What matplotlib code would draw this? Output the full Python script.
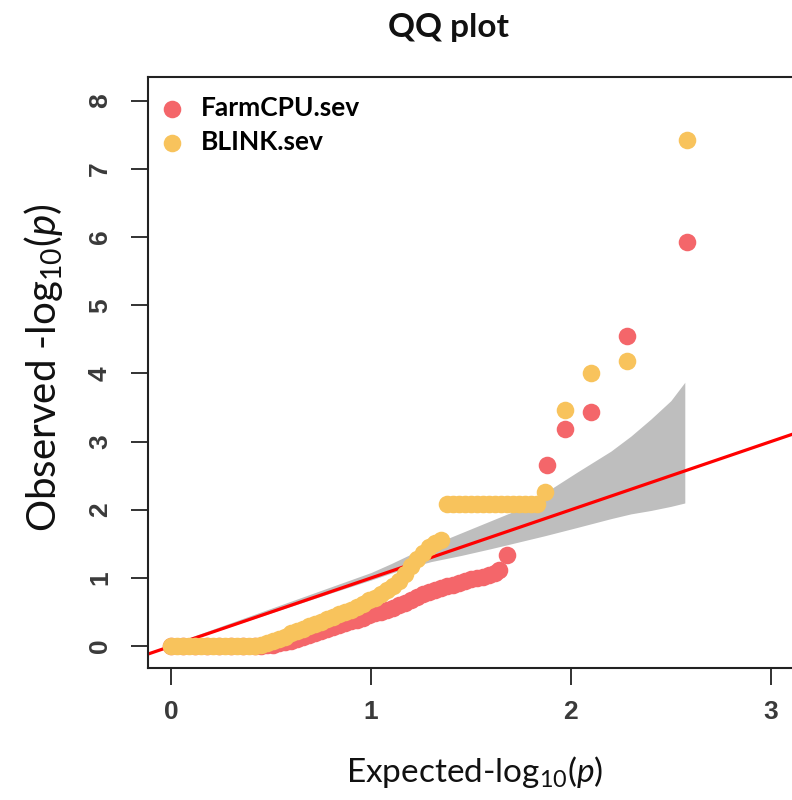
import numpy as np
import matplotlib
matplotlib.use("Agg")
import matplotlib.pyplot as plt

plt.rcParams['mathtext.fontset'] = 'custom'
plt.rcParams['mathtext.rm'] = 'Lato'
plt.rcParams['mathtext.it'] = 'Lato:italic'

# BLINK.sev : expected vs observed -log10(p)
blink_x = [0.00, 0.03, 0.06, 0.09, 0.12, 0.15, 0.18, 0.21, 0.24, 0.27, 0.30, 0.33, 0.36, 0.39, 0.42,
           0.45, 0.48, 0.51, 0.54, 0.57, 0.60, 0.63, 0.66, 0.69, 0.72, 0.75, 0.78, 0.81, 0.84, 0.87,
           0.90, 0.93, 0.96, 0.99, 1.02, 1.05, 1.08, 1.11, 1.14, 1.17, 1.20, 1.23, 1.26, 1.29, 1.32, 1.35,
           1.38, 1.41, 1.44, 1.47, 1.50, 1.53, 1.56, 1.59, 1.62, 1.65, 1.68, 1.71, 1.74, 1.77, 1.80, 1.83,
           1.87, 1.97, 2.10, 2.28, 2.58]
blink_y = [0.00, 0.00, 0.00, 0.00, 0.00, 0.00, 0.00, 0.00, 0.00, 0.00, 0.00, 0.00, 0.00, 0.00, 0.00,
           0.02, 0.04, 0.07, 0.10, 0.14, 0.19, 0.22, 0.25, 0.29, 0.32, 0.36, 0.40, 0.43, 0.47, 0.50,
           0.53, 0.58, 0.62, 0.67, 0.71, 0.76, 0.82, 0.88, 0.96, 1.06, 1.17, 1.28, 1.37, 1.45, 1.51, 1.55,
           2.08, 2.08, 2.08, 2.08, 2.08, 2.08, 2.08, 2.08, 2.08, 2.08, 2.08, 2.08, 2.08, 2.08, 2.08, 2.08,
           2.26, 3.47, 4.00, 4.18, 7.43]

# FarmCPU.sev
farm_x = [0.00, 0.06, 0.12, 0.18, 0.24, 0.30, 0.36, 0.42,
          0.45, 0.48, 0.51, 0.54, 0.57, 0.60, 0.63, 0.66, 0.69, 0.72, 0.75, 0.78, 0.81, 0.84, 0.87,
          0.90, 0.93, 0.96, 0.99, 1.02, 1.05, 1.08, 1.11, 1.14, 1.17, 1.20, 1.23, 1.26, 1.29, 1.32, 1.35,
          1.38, 1.41, 1.44, 1.47, 1.50, 1.53, 1.56, 1.59, 1.62, 1.64,
          1.68, 1.88, 1.97, 2.10, 2.28, 2.58]
farm_y = [0.00, 0.00, 0.00, 0.00, 0.00, 0.00, 0.00, 0.00,
          0.00, 0.01, 0.02, 0.04, 0.06, 0.08, 0.10, 0.13, 0.16, 0.19, 0.22, 0.25, 0.28, 0.31, 0.34,
          0.37, 0.39, 0.42, 0.45, 0.48, 0.50, 0.53, 0.56, 0.60, 0.64, 0.68, 0.72, 0.76, 0.80, 0.83, 0.86,
          0.88, 0.90, 0.93, 0.96, 0.98, 1.00, 1.02, 1.05, 1.08, 1.12,
          1.34, 2.65, 3.19, 3.44, 4.55, 5.92]

# confidence band
ci_x = [0.0, 0.4, 0.8, 1.0, 1.1, 1.2, 1.3, 1.45, 1.6, 1.7, 1.87, 2.03, 2.2, 2.3, 2.4, 2.5, 2.57]
ci_upper = [0.03, 0.45, 0.87, 1.08, 1.21, 1.35, 1.48, 1.66, 1.84, 1.96, 2.25, 2.55, 2.86, 3.08,
            3.33, 3.60, 3.87]
ci_lower = [0.00, 0.39, 0.78, 0.97, 1.07, 1.16, 1.24, 1.33, 1.43, 1.50, 1.62, 1.74, 1.87, 1.94,
            1.99, 2.05, 2.10]

fig = plt.figure(figsize=(7.92, 8), dpi=100)
# right edge of the plot region runs past the picture, as in the original
ax = fig.add_axes([0.187, 0.165, 0.848, 0.739])

ax.fill_between(ci_x, ci_lower, ci_upper, color='#BEBEBE', lw=0, zorder=1)
ax.plot([-1, 4], [-1, 4], color='#FF0000', lw=2.3, zorder=2)
ax.scatter(farm_x, farm_y, s=160, color='#F4666A', lw=0, zorder=3, label='FarmCPU.sev')
ax.scatter(blink_x, blink_y, s=160, color='#F8C35C', lw=0, zorder=4, label='BLINK.sev')

ax.set_xlim(-0.115, 3.245)
ax.set_ylim(-0.32, 8.35)
ax.set_xticks([0, 1, 2, 3])
ax.set_yticks(range(0, 9))

for s in ['top', 'left', 'bottom']:
    ax.spines[s].set_linewidth(1.5)
    ax.spines[s].set_color('#222222')
ax.spines['right'].set_visible(False)

ax.tick_params(axis='both', length=12, width=1.3, color='#222222',
               labelsize=19, labelcolor='#3a3a3a')
ax.tick_params(axis='x', pad=11)
ax.tick_params(axis='y', pad=14)
for lab in ax.get_xticklabels() + ax.get_yticklabels():
    lab.set_fontfamily('Liberation Sans')
    lab.set_fontweight('bold')
for lab in ax.get_yticklabels():
    lab.set_rotation(90)
    lab.set_va('center')

fig.text(448 / 792, 1 - 28 / 800, 'QQ plot', ha='center', va='center',
         fontsize=24, fontweight='bold', family='Lato', color='#111111')
fig.text(475 / 792, 1 - 772 / 800, 'Expected-log$_{10}$($p$)', ha='center', va='center',
         fontsize=24, family='Lato', color='#111111')
fig.text(44 / 792, 1 - 368 / 800, 'Observed -log$_{10}$($p$)', ha='center', va='center',
         rotation=90, fontsize=29, family='Lato', color='#111111')

leg = ax.legend(loc='upper left', bbox_to_anchor=(-0.028, 0.995), frameon=False,
                prop={'family': 'Lato', 'weight': 'bold', 'size': 19},
                handletextpad=0.1, labelspacing=0.4, borderaxespad=0.2,
                markerscale=1.0, scatterpoints=1)

fig.savefig('out.png', dpi=100)
